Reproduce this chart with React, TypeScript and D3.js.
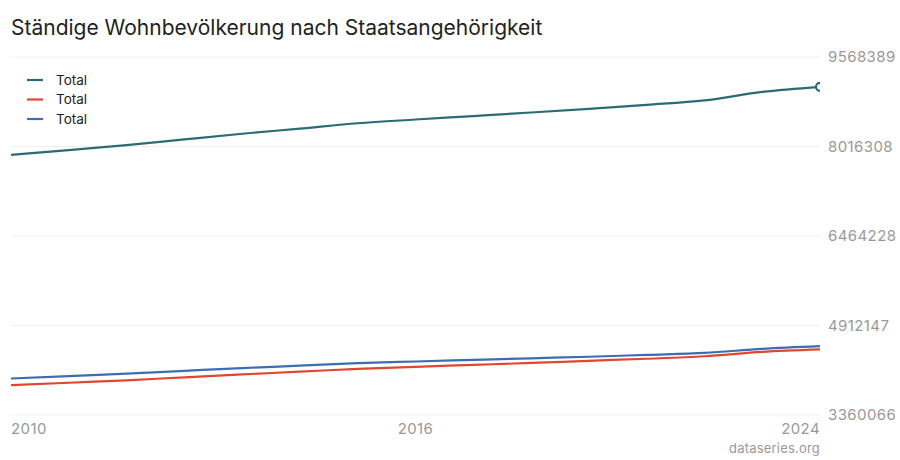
import React from "react";
import * as d3 from "d3";

const years = [2010, 2011, 2012, 2013, 2014, 2015, 2016, 2017, 2018, 2019, 2020, 2021, 2022, 2023, 2024];
const totalValues = [7870134, 7954662, 8039060, 8139631, 8237666, 8327126, 8419550, 8484130, 8544527, 8606033, 8670300, 8738791, 8815385, 8962258, 9051029];
const menValues = [3877426, 3919212, 3961496, 4013748, 4063719, 4111140, 4160720, 4196036, 4228727, 4262440, 4300149, 4335540, 4379000, 4455000, 4497000];
const womenValues = [3992708, 4035450, 4077564, 4125883, 4173947, 4215986, 4258830, 4288094, 4315800, 4343593, 4370151, 4403251, 4436385, 4507258, 4554029];
const seriesNames = ["Total", "Total", "Total"];
const seriesColors = ["#2b6b73", "#e0472e", "#3b6db3"];
const yMin = 3360066;
const yMax = 9568389;
const xTickLabels = ["2010", "2016", "2024"];

const W = 900;
const H = 460;
const left = 11;
const right = 820;
const top = 57;
const bottom = 415;

export default function App() {
  const x = d3.scaleLinear().domain([2010, 2024]).range([left, right]);
  const y = d3.scaleLinear().domain([yMin, yMax]).range([bottom, top]);
  const yTicks = d3.range(5).map((i) => yMin + ((yMax - yMin) * i) / 4);
  const line = d3
    .line<number>()
    .x((_, i) => x(years[i]))
    .y((d) => y(d))
    .curve(d3.curveMonotoneX);
  const series = [totalValues, menValues, womenValues];
  const font = "Inter, 'Noto Sans', sans-serif";
  const xTickPos = [x(2010), (left + right) / 2, x(2024)];
  const anchors = ["start", "middle", "end"];

  return (
    <svg width={W} height={H} style={{ position: "absolute", left: 0, top: 0, fontFamily: font }}>
      <rect width={W} height={H} fill="#fff" />
      <text x={11} y={35} fontSize={21} fill="#222">
        Ständige Wohnbevölkerung nach Staatsangehörigkeit
      </text>
      {yTicks.map((t, i) => (
        <g key={i}>
          <line x1={left} x2={right} y1={y(t)} y2={y(t)} stroke="#efefef" strokeWidth={1} />
          <text x={828} y={y(t) + 5} fontSize={15} fill="#999" letterSpacing={0.4}>
            {Math.round(t)}
          </text>
        </g>
      ))}
      <defs>
        <clipPath id="plotclip">
          <rect x={left} y={0} width={right - left} height={H} />
        </clipPath>
      </defs>
      <g clipPath="url(#plotclip)">
        {series.map((s, i) => (
          <path key={i} d={line(s) || ""} fill="none" stroke={seriesColors[i]} strokeWidth={2.2} />
        ))}
        <circle cx={x(2024)} cy={y(totalValues[totalValues.length - 1])} r={4} fill="#fff" stroke={seriesColors[0]} strokeWidth={2.2} />
      </g>
      {seriesNames.map((n, i) => (
        <g key={i}>
          <line x1={27} x2={43} y1={80 + i * 19.5} y2={80 + i * 19.5} stroke={seriesColors[i]} strokeWidth={2.2} />
          <text x={56} y={84.5 + i * 19.5} fontSize={13.5} fill="#222">
            {n}
          </text>
        </g>
      ))}
      {xTickLabels.map((l, i) => (
        <text key={i} x={xTickPos[i]} y={434} fontSize={15} fill="#999" textAnchor={anchors[i] as any} letterSpacing={0.4}>
          {l}
        </text>
      ))}
      <text x={820} y={453} fontSize={13} fill="#999" textAnchor="end" letterSpacing={0.2}>
        dataseries.org
      </text>
    </svg>
  );
}
